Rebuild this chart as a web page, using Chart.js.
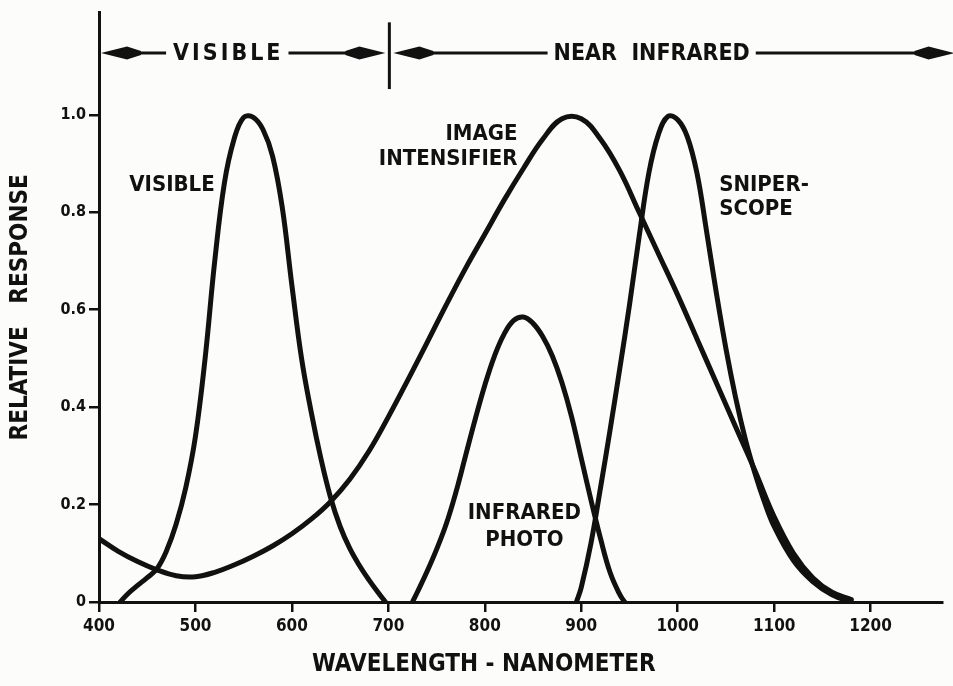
<!DOCTYPE html>
<html>
<head>
<meta charset="utf-8">
<script src="https://cdn.jsdelivr.net/npm/chart.js@4.4.1/dist/chart.umd.min.js"></script>
<style>
  html, body { margin: 0; padding: 0; background: #fcfcfa; }
  canvas { display: block; }
</style>
</head>
<body>
<canvas id="chart" width="953" height="686"></canvas>
<script>
// wavelengths (nm) and relative response
var visibleNm   = [422, 430, 440, 450, 460, 470, 480, 490, 500, 510, 520, 530, 540, 550, 560, 570, 580, 590, 600, 610, 620, 630, 640, 650, 660, 670, 680, 690, 697];
var visibleResp = [0, 0.017, 0.034, 0.05, 0.068, 0.105, 0.16, 0.235, 0.34, 0.50, 0.70, 0.86, 0.95, 0.995, 0.995, 0.97, 0.915, 0.81, 0.65, 0.50, 0.39, 0.295, 0.215, 0.155, 0.11, 0.075, 0.045, 0.018, 0];

var intensNm   = [400, 420, 440, 460, 480, 500, 520, 540, 560, 580, 600, 620, 640, 660, 680, 700, 720, 740, 760, 780, 800, 820, 840, 860, 880, 900, 920, 940, 960, 980, 1000, 1020, 1040, 1060, 1080, 1100, 1120, 1140, 1160, 1180];
var intensResp = [0.13, 0.104, 0.083, 0.066, 0.054, 0.052, 0.061, 0.076, 0.094, 0.115, 0.14, 0.17, 0.206, 0.252, 0.31, 0.38, 0.455, 0.532, 0.61, 0.685, 0.755, 0.825, 0.89, 0.95, 0.992, 0.992, 0.95, 0.885, 0.80, 0.715, 0.63, 0.54, 0.45, 0.36, 0.27, 0.175, 0.10, 0.05, 0.02, 0.005];

var irPhotoNm   = [725, 730, 740, 750, 760, 770, 780, 790, 800, 810, 820, 830, 840, 850, 860, 870, 880, 890, 900, 910, 920, 930, 940, 945];
var irPhotoResp = [0, 0.02, 0.062, 0.108, 0.16, 0.225, 0.30, 0.375, 0.445, 0.505, 0.55, 0.578, 0.585, 0.572, 0.545, 0.505, 0.45, 0.38, 0.295, 0.21, 0.13, 0.06, 0.015, 0];

var sniperNm   = [895, 900, 910, 920, 930, 940, 950, 960, 970, 980, 990, 1000, 1010, 1020, 1030, 1040, 1050, 1060, 1070, 1080, 1090, 1100, 1120, 1140, 1160, 1180];
var sniperResp = [0, 0.03, 0.12, 0.235, 0.355, 0.48, 0.61, 0.75, 0.88, 0.96, 0.997, 0.99, 0.955, 0.88, 0.76, 0.635, 0.52, 0.42, 0.335, 0.265, 0.205, 0.155, 0.085, 0.042, 0.015, 0];

var xTicks = [400, 500, 600, 700, 800, 900, 1000, 1100, 1200];
var yTicks = [0, 0.2, 0.4, 0.6, 0.8, 1.0];
var yTickLabels = ['0', '0.2', '0.4', '0.6', '0.8', '1.0'];

var FONT = '"DejaVu Sans Condensed", "DejaVu Sans", sans-serif';
var INK = '#111111';

function points(xs, ys) {
    return xs.map(function(v, i) { return {x: v, y: ys[i]}; });
}

function curve(label, xs, ys) {
    return {
        label: label,
        data: points(xs, ys),
        borderColor: INK,
        borderWidth: 5,
        pointRadius: 0,
        fill: false,
        tension: 0.4,
        borderCapStyle: 'round',
        borderJoinStyle: 'round'
    };
}

function arrowHead(ctx, tipX, y, dir) {
    // dir -1 points left, +1 points right
    ctx.beginPath();
    ctx.moveTo(tipX, y);
    ctx.lineTo(tipX - dir * 26, y - 6.5);
    ctx.lineTo(tipX - dir * 40, y - 2);
    ctx.lineTo(tipX - dir * 40, y + 2);
    ctx.lineTo(tipX - dir * 26, y + 6.5);
    ctx.closePath();
    ctx.fill();
}

function hline(ctx, x1, x2, y) {
    ctx.beginPath();
    ctx.moveTo(x1, y);
    ctx.lineTo(x2, y);
    ctx.stroke();
}

var labelsPlugin = {
    id: 'labels',
    afterDatasetsDraw: function(chart) {
        var ctx = chart.ctx;
        var x = chart.scales.x, y = chart.scales.y;
        ctx.save();
        ctx.fillStyle = INK;
        ctx.strokeStyle = INK;
        ctx.lineWidth = 3;
        ctx.textBaseline = 'middle';

        // band across the top: VISIBLE / NEAR INFRARED
        var by = y.getPixelForValue(1.127);
        var x400 = x.getPixelForValue(400);
        var x700 = x.getPixelForValue(700);
        var xEnd = x.getPixelForValue(1287);

        ctx.font = 'bold 23px ' + FONT;
        ctx.textAlign = 'center';
        ctx.letterSpacing = '3px';
        var visX = x.getPixelForValue(533);
        var visW = ctx.measureText('VISIBLE').width;
        ctx.fillText('VISIBLE', visX + 1, by + 1);
        ctx.letterSpacing = '0px';
        var nirX = x.getPixelForValue(973);
        var nirW = ctx.measureText('NEAR  INFRARED').width;
        ctx.fillText('NEAR  INFRARED', nirX, by + 1);

        hline(ctx, x400 + 20, visX - visW / 2 - 6, by);
        hline(ctx, visX + visW / 2 + 6, x700 - 20, by);
        hline(ctx, x700 + 20, nirX - nirW / 2 - 6, by);
        hline(ctx, nirX + nirW / 2 + 6, xEnd - 20, by);
        arrowHead(ctx, x400 + 2, by, -1);
        arrowHead(ctx, x700 - 3, by, 1);
        arrowHead(ctx, x700 + 5, by, -1);
        arrowHead(ctx, xEnd, by, 1);

        ctx.beginPath();
        ctx.moveTo(x700 + 1, y.getPixelForValue(1.19));
        ctx.lineTo(x700 + 1, y.getPixelForValue(1.053));
        ctx.stroke();

        // curve names
        ctx.font = 'bold 22px ' + FONT;
        ctx.textAlign = 'right';
        ctx.fillText('VISIBLE', x.getPixelForValue(520), y.getPixelForValue(0.855));
        ctx.fillText('IMAGE', x.getPixelForValue(834), y.getPixelForValue(0.96));
        ctx.fillText('INTENSIFIER', x.getPixelForValue(834), y.getPixelForValue(0.908));
        ctx.textAlign = 'left';
        ctx.fillText('SNIPER-', x.getPixelForValue(1043), y.getPixelForValue(0.855));
        ctx.fillText('SCOPE', x.getPixelForValue(1043), y.getPixelForValue(0.807));
        ctx.textAlign = 'center';
        ctx.fillText('INFRARED', x.getPixelForValue(841), y.getPixelForValue(0.182));
        ctx.fillText('PHOTO', x.getPixelForValue(841), y.getPixelForValue(0.127));

        // x-axis title, sits a little left of the plot centre
        ctx.font = 'bold 24px ' + FONT;
        ctx.fillText('WAVELENGTH - NANOMETER', x.getPixelForValue(799), 665);
        ctx.restore();
    }
};

var chart = new Chart(document.getElementById('chart'), {
    type: 'line',
    data: {
        datasets: [
            curve('Visible', visibleNm, visibleResp),
            curve('Image intensifier', intensNm, intensResp),
            curve('Infrared photo', irPhotoNm, irPhotoResp),
            curve('Sniperscope', sniperNm, sniperResp)
        ]
    },
    options: {
        responsive: false,
        animation: false,
        layout: { padding: { left: 6, right: 11, top: 11, bottom: 8 } },
        plugins: {
            legend: { display: false },
            tooltip: { enabled: false }
        },
        scales: {
            x: {
                type: 'linear',
                min: 400,
                max: 1274,
                afterBuildTicks: function(scale) {
                    scale.ticks = xTicks.map(function(v) { return {value: v}; });
                },
                afterFit: function(scale) { scale.height = 76; },
                border: { display: true, color: INK, width: 3 },
                grid: { display: true, drawOnChartArea: false, drawTicks: true, tickLength: 10, color: INK, lineWidth: 2.5 },
                ticks: {
                    color: INK,
                    padding: 4,
                    maxRotation: 0,
                    font: { family: FONT, weight: 'bold', size: 17 },
                    callback: function(v) { return String(v); }
                },
                title: { display: false }
            },
            y: {
                min: 0,
                max: 1.21,
                afterBuildTicks: function(scale) {
                    scale.ticks = yTicks.map(function(v) { return {value: v}; });
                },
                afterFit: function(scale) { scale.width = 93; },
                border: { display: true, color: INK, width: 3 },
                grid: { display: true, drawOnChartArea: false, drawTicks: true, tickLength: 10, color: INK, lineWidth: 2.5 },
                ticks: {
                    color: INK,
                    padding: 3,
                    font: { family: FONT, weight: 'bold', size: 16 },
                    callback: function(v, i) { return yTickLabels[i]; }
                },
                title: {
                    display: true,
                    text: 'RELATIVE   RESPONSE',
                    color: INK,
                    padding: { top: 0, bottom: 0 },
                    font: { family: FONT, weight: 'bold', size: 24 }
                }
            }
        }
    },
    plugins: [labelsPlugin]
});
</script>
</body>
</html>
